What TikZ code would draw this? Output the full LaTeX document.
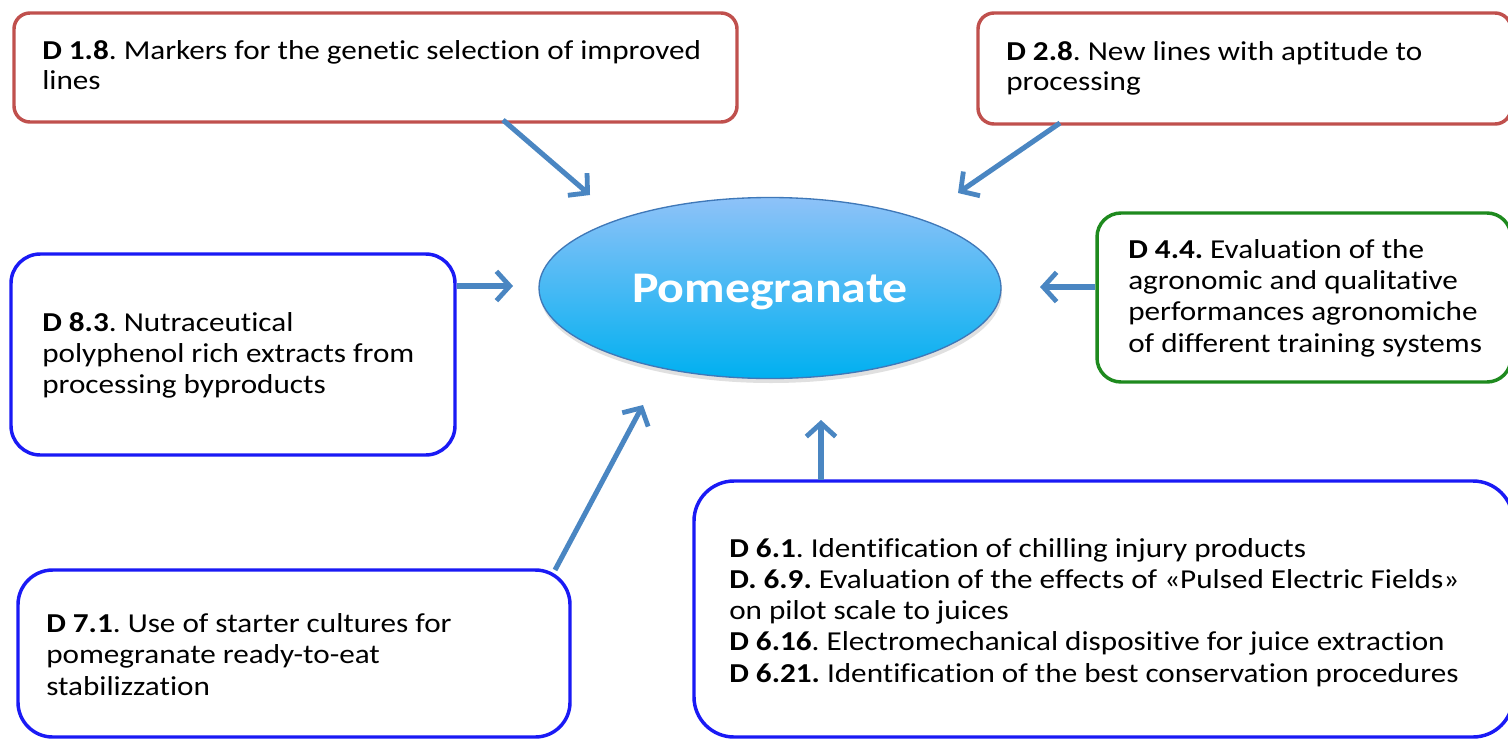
\documentclass[tikz,border=0pt]{standalone}
\usepackage{fontspec}
\setmainfont{Carlito}[FakeStretch=1.14, Ligatures={NoCommon}]
\frenchspacing
\usetikzlibrary{arrows.meta,fit,shapes.geometric}
\definecolor{boxred}{HTML}{C0504D}
\definecolor{boxblue}{HTML}{1A1AF5}
\definecolor{boxgreen}{HTML}{1E8A1E}
\definecolor{arrowblue}{HTML}{4A86C2}
\definecolor{elltop}{HTML}{8EC2F8}
\definecolor{ellbot}{HTML}{00B0F0}
\definecolor{ellline}{HTML}{3F78B8}
\tikzset{
  box/.style={draw, line width=2.6pt, fill=white, inner sep=0pt},
  txt/.style={anchor=base west, inner sep=0pt, align=left, text=black},
  conn/.style={draw=arrowblue, line width=3.8pt, -{Straight Barb[length=10pt,width=22pt,line width=3.6pt]}}
}
\begin{document}
\begin{tikzpicture}[x=0.75pt,y=-0.75pt]
\useasboundingbox (0,0) rectangle (1508,739);
\clip (0,0) rectangle (1508,739);
\fill[white] (0,0) rectangle (1508,739);
% boxes
\node[box, draw=boxred, rounded corners=12pt, fit={(14,13) (737,122)}] (A) {};
\node[box, draw=boxred, rounded corners=12pt, fit={(978,13) (1511,124)}] (B) {};
\node[box, draw=boxblue, rounded corners=22pt, fit={(11,254) (455,455)}] (C) {};
\node[box, draw=boxgreen, rounded corners=18pt, fit={(1097,213) (1511,382)}] (D) {};
\node[box, draw=boxblue, rounded corners=26pt, fit={(18,570) (570,737)}] (E) {};
\node[box, draw=boxblue, rounded corners=30pt, fit={(694,481) (1513,737)}] (F) {};
% ellipse
\fill[black!12] (771,293) ellipse [x radius=231, y radius=90];
\node[ellipse, draw=ellline, line width=1pt, top color=elltop, bottom color=ellbot,
      minimum width=462*0.75pt, minimum height=181*0.75pt, inner sep=0pt,
      font=\fontsize{32.8}{35}\selectfont\bfseries, text=white, text depth=0pt] (P) at (770,288) {Pomegranate};
% texts (anchor = baseline of the last line)
\node[txt, font=\fontsize{20.5}{22.5}\selectfont] (tA) at (42,89)
  {\textbf{D 1.8}. Markers for the genetic selection of improved\\lines};
\node[txt, font=\fontsize{20.5}{22.5}\selectfont] (tB) at (1006,90)
  {\textbf{D 2.8}. New lines with aptitude to\\processing};
\node[txt, font=\fontsize{20.5}{23.2}\selectfont] (tC) at (42,393)
  {\textbf{D 8.3}. Nutraceutical\\polyphenol rich extracts from\\processing byproducts};
\node[txt, font=\fontsize{20.5}{23.5}\selectfont] (tD) at (1128,352)
  {\textbf{D 4.4.} Evaluation of the\\agronomic and qualitative\\performances agronomiche\\of different training systems};
\node[txt, font=\fontsize{20.5}{23.6}\selectfont] (tE) at (46,695)
  {\textbf{D 7.1}. Use of starter cultures for\\pomegranate ready-to-eat\\stabilizzation};
\node[txt, font=\fontsize{20.5}{23.4}\selectfont] (tF) at (729,682)
  {\textbf{D 6.1}. Identification of chilling injury products\\
   \textbf{D. 6.9.} Evaluation of the effects of «Pulsed Electric Fields»\\
   on pilot scale to juices\\
   \textbf{D 6.16}. Electromechanical dispositive for juice extraction\\
   \textbf{D 6.21.} Identification of the best conservation procedures};
% arrow end points
\coordinate (a1s) at (503,120);  \coordinate (a1e) at (590,195);
\coordinate (a2s) at (1060,123); \coordinate (a2e) at (958,193);
\coordinate (a3s) at (457,286);  \coordinate (a3e) at (513,286);
\coordinate (a4s) at (1095,287); \coordinate (a4e) at (1040,287);
\coordinate (a5s) at (555,570);  \coordinate (a5e) at (643,405);
\coordinate (a6s) at (821,480);  \coordinate (a6e) at (821,420);
\draw[conn] (a1s) -- (a1e);
\draw[conn] (a2s) -- (a2e);
\draw[conn] (a3s) -- (a3e);
\draw[conn] (a4s) -- (a4e);
\draw[conn] (a5s) -- (a5e);
\draw[conn] (a6s) -- (a6e);
\end{tikzpicture}
\end{document}
